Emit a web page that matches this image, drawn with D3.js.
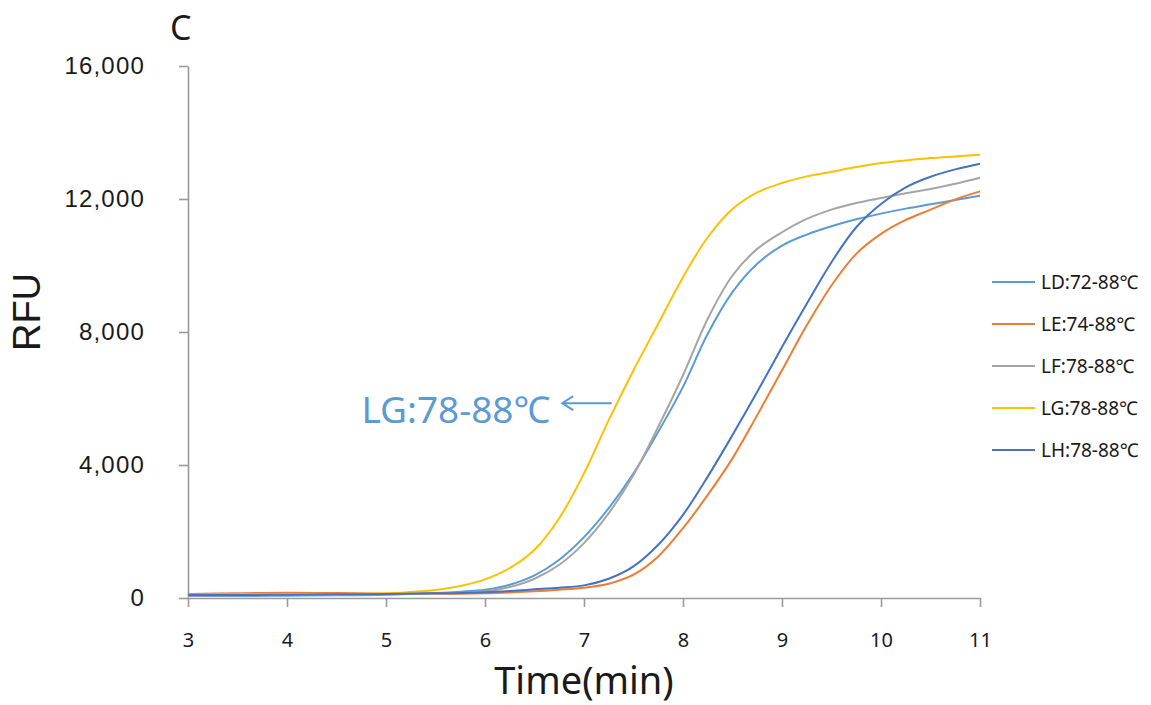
<!DOCTYPE html>
<html>
<head>
<meta charset="utf-8">
<script src="https://cdn.jsdelivr.net/npm/d3@7"></script>
<style>
  html, body { margin: 0; padding: 0; background: #fff; }
  svg { display: block; }
</style>
</head>
<body>
<div id="chart"></div>
<script>
// time points (min)
const times = [3, 3.5, 4, 4.5, 5, 5.5, 5.75, 6, 6.25, 6.5, 6.75, 7, 7.25, 7.5, 7.75, 8,
  8.25, 8.5, 8.75, 9, 9.25, 9.5, 9.75, 10, 10.25, 10.5, 10.75, 11];

// RFU readings per run
const ldValues = [60, 60, 70, 80, 100, 150, 190, 250, 400, 680, 1150, 1830, 2700, 3750, 5000, 6350,
  7950, 9200, 10050, 10600, 10930, 11180, 11390, 11560, 11710, 11840, 11970, 12100];
const leValues = [120, 140, 160, 150, 130, 130, 130, 140, 165, 200, 250, 310, 430, 700, 1250, 2100,
  3100, 4200, 5500, 6850, 8200, 9400, 10350, 10950, 11370, 11680, 11990, 12230];
const lfValues = [70, 80, 90, 100, 110, 140, 160, 200, 330, 580, 1000, 1650, 2550, 3700, 5150, 6700,
  8400, 9700, 10500, 11000, 11400, 11680, 11880, 12030, 12170, 12300, 12460, 12640];
const lgValues = [100, 110, 120, 120, 140, 240, 360, 560, 900, 1450, 2400, 3750, 5350, 6850, 8250, 9650,
  10850, 11700, 12200, 12480, 12680, 12820, 12960, 13080, 13160, 13230, 13280, 13330];
const lhValues = [90, 90, 100, 110, 120, 140, 150, 170, 210, 260, 310, 380, 580, 950, 1600, 2500,
  3650, 4900, 6200, 7550, 8850, 10100, 11150, 11850, 12350, 12670, 12890, 13060];

const seriesNames = ['LD:72-88℃', 'LE:74-88℃', 'LF:78-88℃', 'LG:78-88℃', 'LH:78-88℃'];
const seriesColors = ['#5b9bd5', '#ed7d31', '#a5a5a5', '#ffc000', '#4472c4'];
const seriesValues = [ldValues, leValues, lfValues, lgValues, lhValues];

const xTicks = [3, 4, 5, 6, 7, 8, 9, 10, 11];
const yTicks = [0, 4000, 8000, 12000, 16000];

// annotation: text anchor [time, rfu], arrow [tip time, tail time, rfu]
const noteText = 'LG:78-88℃';
const noteAnchor = [6.66, 5250];
const noteArrow = [6.78, 7.28, 5860];

const W = 1151, H = 705;
const x = d3.scaleLinear().domain([3, 11]).range([188, 980]);
const y = d3.scaleLinear().domain([0, 16000]).range([598, 66]);

const svg = d3.select('#chart').append('svg').attr('width', W).attr('height', H);

const axisColor = '#9a9a9a';
const fmt = d3.format(',');

// y axis
const gy = svg.append('g').attr('transform', `translate(${x(3)},0)`)
  .call(d3.axisLeft(y).tickValues(yTicks).tickFormat(fmt).tickSize(9).tickSizeOuter(0).tickPadding(34));
gy.select('.domain').attr('stroke', axisColor).attr('stroke-width', 1.6);
gy.selectAll('.tick line').attr('stroke', axisColor).attr('stroke-width', 1.6);
gy.selectAll('.tick text').attr('fill', '#1a1a1a').attr('font-size', 24)
  .attr('font-family', '"Liberation Sans", Arial, sans-serif').attr('letter-spacing', 1.2);

// x axis
const gx = svg.append('g').attr('transform', `translate(0,${y(0)})`)
  .call(d3.axisBottom(x).tickValues(xTicks).tickFormat(d3.format('d')).tickSize(9).tickSizeOuter(0).tickPadding(26));
gx.select('.domain').attr('stroke', axisColor).attr('stroke-width', 1.6);
gx.selectAll('.tick line').attr('stroke', axisColor).attr('stroke-width', 1.6);
gx.selectAll('.tick text').attr('fill', '#1a1a1a').attr('font-size', 20)
  .attr('font-family', '"Noto Sans", sans-serif');

// curves
const line = d3.line()
  .x((d, i) => x(times[i]))
  .y(d => y(d))
  .curve(d3.curveCatmullRom.alpha(0.5));

svg.append('g').selectAll('path').data(seriesValues).join('path')
  .attr('d', d => line(d))
  .attr('fill', 'none')
  .attr('stroke', (d, i) => seriesColors[i])
  .attr('stroke-width', 2);

// legend
const legend = svg.append('g').attr('transform', 'translate(992,282)');
seriesNames.forEach((name, i) => {
  const row = legend.append('g').attr('transform', `translate(0,${i * 42})`);
  row.append('line').attr('x1', 0).attr('x2', 43).attr('y1', 0).attr('y2', 0)
    .attr('stroke', seriesColors[i]).attr('stroke-width', 2);
  row.append('text').attr('x', 49).attr('y', 0).attr('dy', '0.36em')
    .attr('fill', '#1a1a1a').attr('font-size', 19)
    .attr('font-family', '"Noto Sans", "Noto Sans CJK SC", sans-serif')
    .text(name);
});

// annotation
svg.append('text')
  .attr('x', x(noteAnchor[0])).attr('y', y(noteAnchor[1]))
  .attr('text-anchor', 'end')
  .attr('fill', '#5b9bd5').attr('font-size', 37)
  .attr('font-family', '"Noto Sans", "Noto Sans CJK SC", sans-serif')
  .text(noteText);

const ax0 = x(noteArrow[0]), ax1 = x(noteArrow[1]), ay = y(noteArrow[2]);
svg.append('path')
  .attr('d', `M${ax1},${ay}H${ax0}M${ax0 + 11},${ay - 7}L${ax0},${ay}L${ax0 + 11},${ay + 7}`)
  .attr('fill', 'none').attr('stroke', '#5b9bd5').attr('stroke-width', 2);

// axis titles and panel letter
svg.append('text')
  .attr('transform', `translate(40,${(y(0) + y(16000)) / 2 - 20}) rotate(-90)`)
  .attr('text-anchor', 'middle')
  .attr('fill', '#1a1a1a').attr('font-size', 38)
  .attr('font-family', '"Liberation Sans", Arial, sans-serif')
  .text('RFU');

svg.append('text')
  .attr('x', (x(3) + x(11)) / 2).attr('y', 694)
  .attr('text-anchor', 'middle')
  .attr('fill', '#1a1a1a').attr('font-size', 38)
  .attr('font-family', '"Noto Sans", sans-serif')
  .text('Time(min)');

svg.append('text')
  .attr('x', 170).attr('y', 40)
  .attr('fill', '#1a1a1a').attr('font-size', 34)
  .attr('font-family', '"Noto Sans", sans-serif')
  .text('C');
</script>
</body>
</html>
